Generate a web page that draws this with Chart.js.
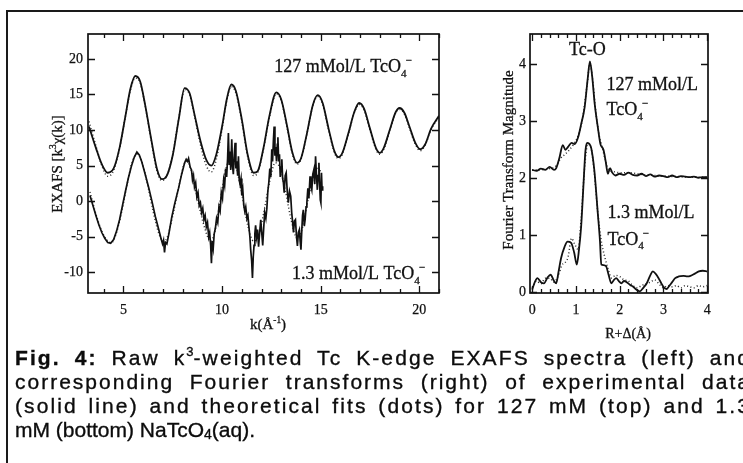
<!DOCTYPE html>
<html>
<head>
<meta charset="utf-8">
<script src="https://cdn.jsdelivr.net/npm/chart.js@4/dist/chart.umd.min.js"></script>
<style>
  html, body { margin: 0; padding: 0; background: #fff; }
  body { width: 743px; height: 463px; position: relative; overflow: hidden; }
  #lineTop { position: absolute; left: 6px; top: 10px; width: 737px; height: 2px; background: #1a1a1a; }
  #lineLeft { position: absolute; left: 6px; top: 10px; width: 2px; height: 453px; background: #1a1a1a; }
  #exafs { position: absolute; left: 0; top: 0; }
  #ft { position: absolute; left: 480px; top: 0; }
  .cap { position: absolute; left: 15px; width: 736px; height: 24px; line-height: 24px;
         font-family: "Liberation Sans", Arial, sans-serif; font-size: 21px; color: #0c0c0c;
         -webkit-text-stroke: 0.35px #0c0c0c;
         text-align: justify; text-align-last: justify; letter-spacing: 2.1px; }
  .cap.last { text-align-last: left; letter-spacing: 0; }
  .cap sup { font-size: 13px; line-height: 0; vertical-align: 9px; letter-spacing: 0; }
  .cap sub { font-size: 14px; line-height: 0; vertical-align: -2px; letter-spacing: 0; }
</style>
</head>
<body>
<div id="lineTop"></div>
<div id="lineLeft"></div>
<canvas id="exafs" width="480" height="345"></canvas>
<canvas id="ft" width="263" height="345"></canvas>
<div class="cap" style="top:346px"><b>Fig. 4:</b> Raw k<sup>3</sup>-weighted Tc K-edge EXAFS spectra (left) and</div>
<div class="cap" style="top:370px; letter-spacing:2px">corresponding Fourier transforms (right) of experimental data</div>
<div class="cap" style="top:394px">(solid line) and theoretical fits (dots) for 127 mM (top) and 1.3</div>
<div class="cap last" style="top:418px">mM (bottom) NaTcO<sub>4</sub>(aq).</div>

<script>
// ---- left panel: k^3-weighted EXAFS, 127 mMol/L (top trace) ----
const topK   = [3.25, 3.6, 3.9, 4.2, 4.5, 4.8, 5.1, 5.35, 5.6, 5.85, 6.1, 6.4, 6.7, 6.95, 7.2, 7.5, 7.8, 8.1, 8.35, 8.6, 8.9, 9.2, 9.45, 9.7, 10.0, 10.25, 10.47, 10.7, 11.0, 11.3, 11.6, 11.8, 12.1, 12.4, 12.75, 13.0, 13.3, 13.55, 13.8, 14.0, 14.3, 14.6, 14.85, 15.1, 15.4, 15.7, 15.9, 16.1, 16.4, 16.7, 16.95, 17.2, 17.5, 17.8, 18.0, 18.2, 18.5, 18.8, 19.0, 19.25, 19.5, 19.8, 20.05, 20.3, 20.6, 21.0];
const topChi = [10.5, 7.5, 5.2, 4.0, 4.6, 7.5, 12.0, 15.8, 17.6, 16.8, 13.5, 8.8, 4.5, 3.1, 3.6, 6.5, 11.5, 15.9, 15.2, 12.2, 8.5, 5.8, 5.0, 6.5, 10.5, 14.5, 16.4, 15.5, 11.5, 6.5, 4.0, 4.2, 7.5, 12.0, 15.3, 14.3, 10.5, 7.0, 5.4, 6.0, 9.5, 13.5, 14.9, 13.8, 10.2, 7.0, 6.2, 6.8, 9.5, 12.5, 13.8, 13.0, 10.2, 7.5, 6.8, 7.5, 10.0, 12.5, 13.1, 12.4, 10.5, 8.2, 7.3, 8.0, 10.2, 12.0];
const topFitK   = [3.25, 3.6, 3.9, 4.2, 4.5, 4.8, 5.1, 5.35, 5.6, 5.85, 6.1, 6.4, 6.7, 6.95, 7.2, 7.5, 7.8, 8.1, 8.35, 8.6, 8.9, 9.2, 9.45, 9.7, 10.0, 10.25, 10.47, 10.7, 11.0, 11.3, 11.6, 11.8, 12.1, 12.4, 12.75, 13.0, 13.3, 13.55, 13.8, 14.0, 14.3, 14.6, 14.85, 15.1, 15.4, 15.7, 15.9, 16.1, 16.4, 16.7, 16.95, 17.2, 17.5, 17.8, 18.0, 18.2, 18.5, 18.8, 19.0, 19.25, 19.5, 19.8, 20.05, 20.3, 20.6, 21.0];
const topFitChi = [11.2, 7.8, 5.0, 3.5, 4.3, 7.4, 12.0, 15.6, 17.3, 16.6, 13.4, 8.6, 4.2, 2.9, 3.6, 6.6, 11.6, 15.7, 15.0, 12.0, 8.0, 5.0, 4.1, 5.8, 10.2, 14.3, 16.1, 15.2, 11.2, 6.2, 3.6, 4.0, 7.3, 11.8, 15.1, 14.1, 10.3, 6.8, 5.2, 5.9, 9.4, 13.4, 14.7, 13.6, 10.0, 6.8, 6.0, 6.6, 9.4, 12.4, 13.6, 12.8, 10.0, 7.3, 6.6, 7.3, 9.9, 12.4, 12.9, 12.2, 10.3, 8.0, 7.1, 7.9, 10.1, 11.8];

// ---- left panel: 1.3 mMol/L (bottom trace, noisy above k~8.3) ----
const lowK   = [3.3, 3.45, 3.6, 3.75, 3.9, 4.05, 4.2, 4.35, 4.5, 4.65, 4.8, 4.95, 5.1, 5.25, 5.4, 5.55, 5.68, 5.8, 5.93, 6.1, 6.27, 6.45, 6.61, 6.78, 6.9, 6.98, 7.03, 7.08, 7.13, 7.2, 7.3, 7.45, 7.6, 7.79, 7.95, 8.1, 8.18, 8.25, 8.3, 8.38, 8.45, 8.5, 8.55, 8.6, 8.66, 8.72, 8.78, 8.84, 8.9, 8.96, 9.02, 9.08, 9.14, 9.2, 9.26, 9.32, 9.37, 9.42, 9.46, 9.5, 9.55, 9.6, 9.66, 9.72, 9.78, 9.84, 9.9, 9.96, 10.02, 10.08, 10.13, 10.18, 10.23, 10.28, 10.32, 10.36, 10.4, 10.44, 10.49, 10.53, 10.57, 10.62, 10.66, 10.7, 10.74, 10.79, 10.83, 10.87, 10.91, 10.96, 11.0, 11.05, 11.1, 11.15, 11.2, 11.26, 11.31, 11.36, 11.41, 11.45, 11.5, 11.54, 11.58, 11.62, 11.66, 11.7, 11.75, 11.8, 11.85, 11.9, 11.96, 12.01, 12.06, 12.11, 12.16, 12.22, 12.27, 12.32, 12.37, 12.42, 12.47, 12.52, 12.56, 12.6, 12.64, 12.68, 12.72, 12.76, 12.8, 12.83, 12.87, 12.91, 12.95, 12.99, 13.03, 13.07, 13.11, 13.15, 13.2, 13.25, 13.3, 13.36, 13.42, 13.48, 13.53, 13.58, 13.62, 13.67, 13.72, 13.77, 13.82, 13.87, 13.92, 13.96, 14.0, 14.04, 14.08, 14.12, 14.17, 14.21, 14.26, 14.3, 14.35, 14.4, 14.46, 14.5, 14.55, 14.6, 14.66, 14.7, 14.74, 14.78, 14.83, 14.87, 14.91, 14.95, 14.98, 15.01, 15.04, 15.07, 15.1];
const lowChi = [0.8, -0.6, -2.0, -3.3, -4.4, -5.2, -5.8, -5.9, -5.4, -4.2, -2.6, -0.6, 1.4, 3.3, 4.9, 6.2, 6.9, 6.5, 5.5, 3.8, 2.0, -0.1, -2.1, -3.9, -5.2, -6.0, -5.5, -7.2, -5.8, -6.0, -4.6, -2.2, -0.3, 1.8, 3.8, 5.4, 5.9, 5.6, 6.0, 4.8, 4.4, 3.0, 3.6, 2.0, 2.6, 0.6, 1.2, -0.6, -0.2, -1.6, -1.0, -2.6, -2.0, -3.6, -3.0, -5.0, -4.4, -6.2, -8.7, -5.6, -6.6, -4.6, -3.8, -2.4, -3.0, -0.8, -1.4, 1.2, 0.4, 3.0, 2.2, 4.6, 3.4, 6.0, 9.6, 5.2, 7.0, 4.4, 8.7, 5.0, 3.8, 6.6, 8.2, 4.6, 5.6, 3.6, 6.3, 3.0, 2.4, 3.2, 0.8, 1.6, -0.6, -1.4, -0.8, -2.4, -2.0, -3.6, -5.0, -6.8, -8.4, -10.8, -7.8, -6.2, -4.6, -3.4, -5.0, -4.0, -6.4, -4.6, -2.6, -4.4, -6.2, -3.8, -1.6, -2.4, -1.0, 1.4, 2.6, 4.6, 3.4, 7.3, 5.6, 8.4, 10.5, 6.4, 7.6, 5.6, 8.0, 9.0, 5.6, 6.6, 3.4, 4.8, 5.9, 3.2, 2.6, 1.2, 3.6, 4.0, 1.6, -0.2, 1.4, 0.7, -1.6, -3.0, -4.4, -2.8, -2.6, -4.8, -6.3, -4.4, -4.0, -5.6, -6.8, -4.2, -2.0, -1.2, -3.5, -2.6, -0.8, -0.2, 1.8, 0.4, 3.5, 2.2, 1.6, 3.8, 4.5, 2.4, 6.3, 4.0, 1.6, 3.6, 5.4, 2.2, 0.2, -0.2, 4.0, 1.6, 2.1];
const lowFitK   = [3.3, 3.6, 3.9, 4.2, 4.4, 4.6, 4.9, 5.2, 5.45, 5.68, 5.9, 6.2, 6.5, 6.8, 7.0, 7.2, 7.5, 7.8, 8.05, 8.2, 8.4, 8.7, 9.0, 9.3, 9.45, 9.65, 9.9, 10.2, 10.45, 10.7, 11.0, 11.3, 11.6, 11.85, 12.1, 12.4, 12.7, 12.95, 13.2, 13.5, 13.8, 14.05, 14.3, 14.6, 14.85, 15.05];
const lowFitChi = [1.3, -1.8, -4.2, -5.6, -5.8, -4.8, -1.6, 2.6, 5.6, 6.6, 5.8, 2.6, -1.4, -4.6, -5.6, -5.2, -2.0, 2.0, 5.0, 5.6, 4.6, 1.0, -2.6, -5.2, -5.6, -4.0, 0.0, 4.6, 6.2, 5.0, 1.0, -3.4, -5.6, -4.8, -1.8, 2.6, 5.4, 4.6, 1.6, -2.6, -5.2, -4.0, -0.6, 3.0, 4.6, 4.0];

const kTicks   = [5, 10, 15, 20];
const chiTicks = [-10, -5, 0, 5, 10, 15, 20];

// ---- right panel: Fourier transform magnitude ----
const rTop  = [0.0, 0.1, 0.2, 0.3, 0.4, 0.5, 0.55, 0.62, 0.7, 0.76, 0.82, 0.9, 0.97, 1.05, 1.12, 1.2, 1.27, 1.32, 1.37, 1.43, 1.5, 1.56, 1.63, 1.68, 1.73, 1.78, 1.83, 1.9, 2.0, 2.1, 2.2, 2.3, 2.4, 2.5, 2.6, 2.7, 2.8, 2.9, 3.0, 3.1, 3.2, 3.3, 3.4, 3.5, 3.6, 3.7, 3.8, 3.9, 4.0];
const ftTop = [2.15, 2.13, 2.17, 2.15, 2.2, 2.15, 2.18, 2.35, 2.58, 2.5, 2.55, 2.62, 2.6, 2.72, 2.95, 3.25, 3.75, 4.05, 3.8, 3.3, 2.9, 2.6, 2.5, 2.3, 2.08, 2.18, 2.1, 2.05, 2.08, 2.06, 2.1, 2.06, 2.05, 2.08, 2.04, 2.07, 2.03, 2.05, 2.04, 2.02, 2.05, 2.02, 2.04, 2.03, 2.02, 2.03, 2.01, 2.02, 2.02];
const rTopFit  = [0.0, 0.2, 0.4, 0.55, 0.65, 0.75, 0.85, 0.95, 1.05, 1.15, 1.25, 1.32, 1.38, 1.45, 1.52, 1.6, 1.68, 1.75, 1.85, 2.0, 2.2, 2.4, 2.6, 2.8, 3.0, 3.3, 3.6, 4.0];
const ftTopFit = [2.15, 2.15, 2.17, 2.22, 2.35, 2.42, 2.5, 2.6, 2.75, 3.05, 3.6, 4.0, 3.75, 3.2, 2.8, 2.55, 2.3, 2.15, 2.12, 2.1, 2.1, 2.08, 2.06, 2.05, 2.04, 2.03, 2.02, 2.02];
const rLow  = [0.0, 0.06, 0.12, 0.2, 0.27, 0.35, 0.42, 0.5, 0.55, 0.6, 0.66, 0.74, 0.81, 0.89, 0.96, 1.02, 1.07, 1.12, 1.17, 1.22, 1.27, 1.31, 1.35, 1.42, 1.5, 1.55, 1.58, 1.63, 1.69, 1.75, 1.81, 1.87, 1.92, 1.98, 2.04, 2.1, 2.16, 2.24, 2.31, 2.38, 2.46, 2.54, 2.62, 2.7, 2.76, 2.83, 2.89, 2.96, 3.02, 3.08, 3.12, 3.2, 3.27, 3.35, 3.46, 3.55, 3.62, 3.72, 3.81, 3.9, 4.0];
const ftLow = [0.05, 0.18, 0.25, 0.18, 0.16, 0.26, 0.31, 0.2, 0.16, 0.35, 0.6, 0.8, 0.89, 0.87, 0.7, 0.49, 0.75, 1.16, 1.85, 2.5, 2.62, 2.6, 2.53, 2.15, 1.39, 0.9, 0.49, 0.48, 0.46, 0.3, 0.16, 0.22, 0.25, 0.2, 0.16, 0.2, 0.18, 0.13, 0.1, 0.05, 0.02, 0.08, 0.16, 0.3, 0.37, 0.32, 0.25, 0.15, 0.08, 0.06, 0.1, 0.18, 0.25, 0.28, 0.29, 0.28, 0.29, 0.33, 0.37, 0.38, 0.37];
const rLowFit  = [0.0, 0.1, 0.2, 0.3, 0.4, 0.5, 0.6, 0.68, 0.75, 0.82, 0.9, 0.97, 1.05, 1.12, 1.2, 1.27, 1.34, 1.42, 1.5, 1.58, 1.66, 1.74, 1.82, 1.9, 2.0, 2.1, 2.2, 2.3, 2.4, 2.5, 2.6, 2.7, 2.8, 2.9, 3.0, 3.1, 3.2, 3.3, 3.4, 3.5, 3.6, 3.7, 3.8, 3.9, 4.0];
const ftLowFit = [0.08, 0.2, 0.15, 0.25, 0.25, 0.18, 0.3, 0.48, 0.52, 0.62, 0.95, 0.85, 0.75, 1.3, 2.2, 2.6, 2.55, 2.1, 1.4, 0.9, 0.62, 0.4, 0.25, 0.3, 0.28, 0.22, 0.2, 0.12, 0.08, 0.12, 0.15, 0.18, 0.22, 0.15, 0.08, 0.12, 0.1, 0.12, 0.08, 0.12, 0.1, 0.08, 0.12, 0.1, 0.12];

const rTicks  = [0, 1, 2, 3, 4];
const ftTicks = [0, 1, 2, 3, 4];

const SERIF = '"Liberation Serif", "Times New Roman", serif';
const INK = '#111';

const pts = (xs, ys) => xs.map((x, i) => ({ x: x, y: ys[i] }));

// runs: [text, kind] with kind '' | 'sub' | 'sup' | 'over' (superscript above previous subscript)
function drawRuns(ctx, x, y, runs, size, measureOnly) {
    let cx = x, prevX = x, prevW = 0;
    runs.forEach(([t, kind]) => {
        let s = size, dy = 0, px = cx;
        if (kind === 'sub') { s = size * 0.62; dy = size * 0.25; }
        if (kind === 'sup') { s = size * 0.62; dy = -size * 0.42; }
        if (kind === 'over') { s = size * 0.62; dy = -size * 0.45; px = prevX + prevW * 0.8; }
        ctx.font = s + 'px ' + SERIF;
        const w = ctx.measureText(t).width;
        if (!measureOnly) {
            ctx.fillText(t, px, y + dy);
            ctx.strokeText(t, px, y + dy);
        }
        if (kind === 'over') {
            cx = Math.max(cx, px + w);
        } else {
            prevX = cx; prevW = w; cx += w;
        }
    });
    return cx - x;
}

// frame box plus inward major/minor ticks on all four sides
const frameTicks = {
    id: 'frameTicks',
    afterDatasetsDraw(chart, args, o) {
        const { ctx, chartArea: a } = chart;
        const sx = chart.scales.x, sy = chart.scales.y;
        ctx.save();
        ctx.strokeStyle = INK;
        ctx.lineWidth = 1.7;
        ctx.strokeRect(a.left, a.top, a.right - a.left, a.bottom - a.top);
        ctx.lineWidth = 1.3;
        ctx.beginPath();
        const xMaj = sx.ticks.map(t => t.value);
        const i0 = Math.ceil(sx.min / o.xStep - 1e-6), i1 = Math.floor(sx.max / o.xStep + 1e-6);
        for (let i = i0; i <= i1; i++) {
            const v = i * o.xStep;
            const len = xMaj.some(m => Math.abs(m - v) < 1e-6) ? o.majLen : o.minLen;
            const p = Math.round(sx.getPixelForValue(v)) + 0.5;
            ctx.moveTo(p, a.bottom); ctx.lineTo(p, a.bottom - len);
            ctx.moveTo(p, a.top); ctx.lineTo(p, a.top + len);
        }
        sy.ticks.forEach(t => {
            const p = Math.round(sy.getPixelForValue(t.value)) + 0.5;
            ctx.moveTo(a.left, p); ctx.lineTo(a.left + o.majLen, p);
            ctx.moveTo(a.right, p); ctx.lineTo(a.right - o.majLen, p);
        });
        ctx.stroke();
        ctx.restore();
    }
};

// axis titles (canvas coords) and in-plot labels (data coords)
const notes = {
    id: 'notes',
    afterDraw(chart, args, o) {
        const { ctx } = chart;
        const sx = chart.scales.x, sy = chart.scales.y;
        ctx.save();
        ctx.fillStyle = INK;
        ctx.strokeStyle = INK;
        ctx.lineWidth = 0.3;
        ctx.textBaseline = 'alphabetic';
        ctx.textAlign = 'left';
        (o.titles || []).forEach(t => {
            const w = drawRuns(ctx, 0, 0, t.runs, t.size, true);
            ctx.save();
            ctx.translate(t.x, t.y);
            if (t.rotate) ctx.rotate(-Math.PI / 2);
            drawRuns(ctx, -w / 2, t.size * 0.33, t.runs, t.size);
            ctx.restore();
        });
        (o.labels || []).forEach(l => {
            let px = sx.getPixelForValue(l.x);
            const py = sy.getPixelForValue(l.y);
            if (l.center) px -= drawRuns(ctx, 0, 0, l.runs, l.size, true) / 2;
            drawRuns(ctx, px, py, l.runs, l.size);
        });
        ctx.restore();
    }
};

function axisOpts(min, max, ticks, fit, pad) {
    return {
        type: 'linear', min: min, max: max,
        afterBuildTicks: s => { s.ticks = ticks.map(v => ({ value: v })); },
        afterFit: fit,
        grid: { display: false, drawTicks: false },
        border: { display: false },
        ticks: { font: { family: SERIF, size: 14 }, color: INK, padding: pad, autoSkip: false, maxRotation: 0,
                 textStrokeColor: INK, textStrokeWidth: 0.25 }
    };
}

const solid = (data, tension, width) => ({
    data: data, borderColor: INK, borderWidth: width || 1.8, pointRadius: 0,
    tension: tension, cubicInterpolationMode: tension ? 'monotone' : 'default'
});
const dotted = data => ({
    data: data, borderColor: '#2a2a2a', borderWidth: 1.5, borderDash: [1, 2.4], pointRadius: 0,
    cubicInterpolationMode: 'monotone'
});

const TCO4 = [['TcO'], ['4', 'sub'], ['\u2212', 'over']];

new Chart(document.getElementById('exafs'), {
    type: 'line',
    data: {
        datasets: [
            solid(pts(topK, topChi), 0.4),
            dotted(pts(topFitK, topFitChi)),
            solid(pts(lowK, lowChi), 0, 1.7),
            dotted(pts(lowFitK, lowFitChi))
        ]
    },
    options: {
        responsive: false, animation: false,
        layout: { padding: { top: 34, right: 41, left: 0, bottom: 0 } },
        plugins: {
            legend: { display: false }, tooltip: { enabled: false },
            frameTicks: { xStep: 1, majLen: 7, minLen: 4 },
            notes: {
                titles: [
                    { x: 57, y: 164, size: 15, rotate: true, runs: [['EXAFS [k'], ['3', 'sup'], ['\u03c7(k)]']] },
                    { x: 268, y: 324, size: 15, runs: [['k(\u00c5'], ['-1', 'sup'], [')']] }
                ],
                labels: [
                    { x: 12.65, y: 18.1, size: 18, runs: [['127 mMol/L ']].concat(TCO4) },
                    { x: 13.55, y: -11.0, size: 18, runs: [['1.3 mMol/L ']].concat(TCO4) }
                ]
            }
        },
        scales: {
            x: axisOpts(3.2, 21, kTicks, s => { s.height = 52; }, 9),
            y: axisOpts(-12.9, 23.5, chiTicks, s => { s.width = 88; }, 5)
        }
    },
    plugins: [frameTicks, notes]
});

new Chart(document.getElementById('ft'), {
    type: 'line',
    data: {
        datasets: [
            solid(pts(rTop, ftTop), 0.2),
            dotted(pts(rTopFit, ftTopFit)),
            solid(pts(rLow, ftLow), 0.2),
            dotted(pts(rLowFit, ftLowFit))
        ]
    },
    options: {
        responsive: false, animation: false,
        layout: { padding: { top: 34, right: 35, left: 0, bottom: 0 } },
        plugins: {
            legend: { display: false }, tooltip: { enabled: false },
            frameTicks: { xStep: 0.2, majLen: 7, minLen: 4 },
            notes: {
                titles: [
                    { x: 28, y: 160, size: 15, rotate: true, runs: [['Fourier Transform Magnitude']] },
                    { x: 148, y: 333, size: 14, runs: [['R+\u0394(\u00c5)']] }
                ],
                labels: [
                    { x: 1.26, y: 4.16, size: 18, center: true, runs: [['Tc-O']] },
                    { x: 1.7, y: 3.55, size: 18, runs: [['127 mMol/L']] },
                    { x: 1.7, y: 3.11, size: 18, runs: TCO4 },
                    { x: 1.72, y: 1.3, size: 18, runs: [['1.3 mMol/L']] },
                    { x: 1.72, y: 0.835, size: 18, runs: TCO4 }
                ]
            }
        },
        scales: {
            x: axisOpts(-0.05, 4.02, rTicks, s => { s.height = 52; }, 9),
            y: axisOpts(-0.01, 4.53, ftTicks, s => { s.width = 50; }, 4)
        }
    },
    plugins: [frameTicks, notes]
});
</script>
</body>
</html>
